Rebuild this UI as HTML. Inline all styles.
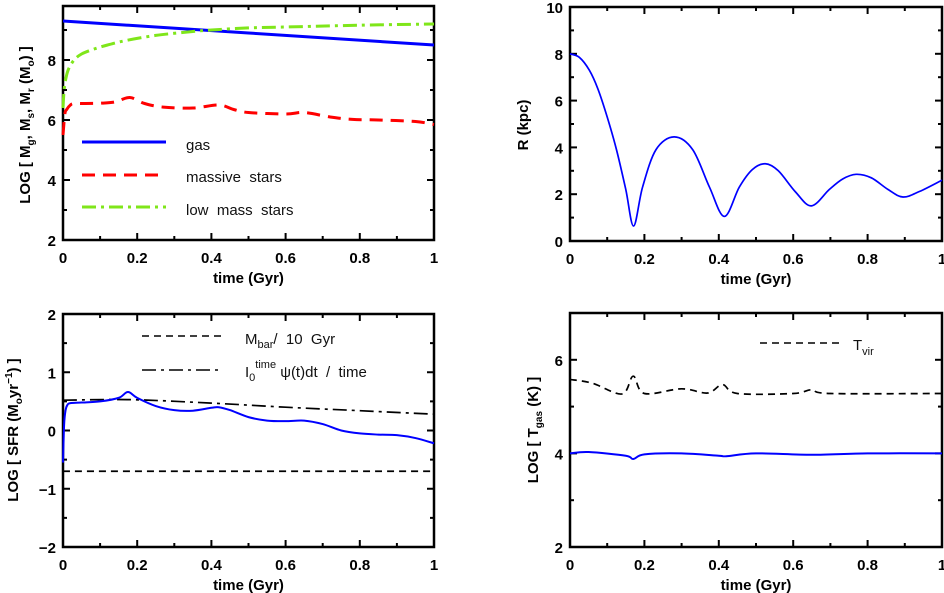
<!DOCTYPE html>
<html><head><meta charset="utf-8"><style>
html,body{margin:0;padding:0;background:#fff;width:944px;height:593px;overflow:hidden}
svg{display:block}
text{font-family:"Liberation Sans",sans-serif}
.tk{font-weight:bold;font-size:15px}
.lg{font-size:15px;fill:#111}
</style></head><body>
<svg id="c" width="944" height="593" xmlns="http://www.w3.org/2000/svg"></svg>
<script>
// ---- data ----
const tlGasT=[0,1];
const tlGasV=[9.3,8.5];
const tlLowT=[0,0.003,0.008,0.015,0.03,0.05,0.08,0.12,0.17,0.25,0.35,0.4,0.5,0.6,0.8,1];
const tlLowV=[6.4,7.0,7.4,7.7,8.0,8.2,8.35,8.5,8.65,8.82,8.95,9.0,9.07,9.1,9.16,9.2];
const tlMasT=[0,0.005,0.01,0.02,0.03,0.06,0.1,0.14,0.18,0.22,0.27,0.35,0.42,0.46,0.5,0.6,0.65,0.72,0.78,0.85,0.95,1];
const tlMasV=[5.5,6.2,6.35,6.5,6.55,6.55,6.56,6.6,6.75,6.55,6.43,6.4,6.5,6.35,6.25,6.2,6.25,6.1,6.02,6.0,5.95,5.85];
const trT=[0,0.025,0.052,0.075,0.1,0.125,0.15,0.171,0.195,0.231,0.28,0.33,0.375,0.415,0.455,0.49,0.525,0.56,0.606,0.649,0.697,0.733,0.769,0.81,0.855,0.895,0.94,1];
const trV=[8,7.85,7.3,6.5,5.3,3.9,2.2,0.64,2.3,3.9,4.45,3.9,2.3,1.05,2.3,3.05,3.3,3.0,2.1,1.5,2.2,2.65,2.85,2.7,2.2,1.88,2.12,2.6];
const blSfrT=[0,0.003,0.007,0.012,0.02,0.05,0.1,0.15,0.175,0.2,0.25,0.3,0.35,0.4,0.42,0.45,0.5,0.55,0.6,0.65,0.7,0.75,0.8,0.85,0.9,0.95,1];
const blSfrV=[-0.55,0.1,0.35,0.44,0.47,0.48,0.5,0.56,0.66,0.56,0.42,0.35,0.34,0.39,0.4,0.35,0.23,0.17,0.16,0.17,0.11,0.0,-0.05,-0.07,-0.08,-0.13,-0.22];
const blAvgT=[0,0.18,0.4,0.6,0.8,1];
const blAvgV=[0.52,0.53,0.47,0.4,0.34,0.28];
const blBarT=[0,1];
const blBarV=[-0.7,-0.7];
const brVirT=[0,0.06,0.14,0.17,0.2,0.3,0.37,0.41,0.45,0.6,0.65,0.7,1];
const brVirV=[5.58,5.5,5.27,5.65,5.28,5.38,5.29,5.47,5.28,5.28,5.36,5.28,5.28];
const brGasT=[0,0.05,0.15,0.17,0.2,0.3,0.4,0.42,0.5,0.65,0.8,1];
const brGasV=[4.0,4.03,3.95,3.88,3.98,4.0,3.95,3.94,4.0,3.97,4.0,4.0];
const xTickLabels=["0","0.2","0.4","0.6","0.8","1"];

const NS="http://www.w3.org/2000/svg";
const svg=document.getElementById('c');
function mk(tag,at,parent){const e=document.createElementNS(NS,tag);for(const k in at)e.setAttribute(k,at[k]);(parent||svg).appendChild(e);return e;}

function panel(name,L,R,T,B,ymin,ymax,major,minor,labels){
  const g=mk('g',{});
  
  
  const sx=v=>L+(R-L)*v, sy=v=>B-(B-T)*(v-ymin)/(ymax-ymin);
  mk('rect',{x:L,y:T,width:R-L,height:B-T,fill:'none',stroke:'#000','stroke-width':2.5},g);
  for(let i=0;i<=10;i++){const x=sx(i/10),len=i%2==0?7:4;
    mk('line',{x1:x,y1:B,x2:x,y2:B-len,stroke:'#000','stroke-width':2},g);
    mk('line',{x1:x,y1:T,x2:x,y2:T+len,stroke:'#000','stroke-width':2},g);}
  for(let i=0;i<xTickLabels.length;i++){
    const t=mk('text',{x:sx(i*0.2),y:B+23,'text-anchor':'middle',class:'tk'},g);
    t.textContent=xTickLabels[i];
    
    }
  for(let v=ymin;v<=ymax+1e-9;v+=minor){
    const isM=Math.abs(v/major-Math.round(v/major))<1e-6,len=isM?7:4,y=sy(v);
    if(y<T-0.5)continue;
    mk('line',{x1:L,y1:y,x2:L+len,y2:y,stroke:'#000','stroke-width':2},g);
    mk('line',{x1:R,y1:y,x2:R-len,y2:y,stroke:'#000','stroke-width':2},g);}
  for(const v of labels){
    const t=mk('text',{x:L-7,y:sy(v)+6,'text-anchor':'end',class:'tk'},g);
    t.textContent=(v<0?'\u2212'+(-v):''+v);
    
    }
  const xt=mk('text',{x:(L+R)/2,y:B+43,'text-anchor':'middle',class:'tk'},g);
  xt.textContent='time (Gyr)';
  
  
  return {g,sx,sy};
}
function smooth(p){
  let d='M'+p[0][0]+','+p[0][1];
  for(let i=0;i<p.length-1;i++){
    const p0=p[Math.max(0,i-1)],p1=p[i],p2=p[i+1],p3=p[Math.min(p.length-1,i+2)];
    const c1=[p1[0]+(p2[0]-p0[0])/6,p1[1]+(p2[1]-p0[1])/6],c2=[p2[0]-(p3[0]-p1[0])/6,p2[1]-(p3[1]-p1[1])/6];
    d+=' C'+c1+' '+c2+' '+p2;}
  return d;
}
function series(P,ts,vs,style,name){
  const pts=ts.map((t,i)=>[P.sx(t),P.sy(vs[i])]);
  const a=Object.assign({d:smooth(pts),fill:'none'},style);
  const e=mk('path',a,P.g);
  
  
}
function legLine(P,x1,x2,y,style,name){
  const e=mk('line',Object.assign({x1:x1,x2:x2,y1:y,y2:y},style),P.g);
  
  
}
function label(parent,x,y,txt,rot,name,cls){
  const t=mk('text',{x:x,y:y,'text-anchor':'middle',class:cls||'tk',transform:rot?`rotate(-90 ${x} ${y})`:''},parent);
  t.innerHTML=txt;
  
  
  return t;
}
// Top-left
const A=panel('masses-panel',63,434,6,240,2,9.8,2,1,[2,4,6,8]);
const blue={stroke:'#0000ff','stroke-width':3};
series(A,tlGasT,tlGasV,blue,'gas-line');
series(A,tlLowT,tlLowV,{stroke:'#7fe61a','stroke-width':3,'stroke-dasharray':'14,5,3,5'},'low-mass-stars-line');
series(A,tlMasT,tlMasV,{stroke:'#ff0000','stroke-width':3,'stroke-dasharray':'13,8'},'massive-stars-line');
legLine(A,82,166,142,blue,'legend-gas-line');
legLine(A,82,166,175,{stroke:'#ff0000','stroke-width':3,'stroke-dasharray':'13,8'},'legend-massive-line');
legLine(A,82,166,207,{stroke:'#7fe61a','stroke-width':3,'stroke-dasharray':'14,5,3,5'},'legend-low-mass-line');
label(A.g,186,150,'gas',false,'legend-gas','lg').setAttribute('text-anchor','start');
label(A.g,186,182,'massive&#160; stars',false,'legend-massive','lg').setAttribute('text-anchor','start');
label(A.g,186,215,'low&#160; mass&#160; stars',false,'legend-low-mass','lg').setAttribute('text-anchor','start');
label(A.g,30,125,'LOG [ M<tspan font-size="10" dy="4">g</tspan><tspan dy="-4">, M</tspan><tspan font-size="10" dy="4">s</tspan><tspan dy="-4">, M</tspan><tspan font-size="10" dy="4">r</tspan><tspan dy="-4"> (M</tspan><tspan font-size="10" dy="4">o</tspan><tspan dy="-4">) ]</tspan>',true,'y-axis-title');
// Top-right
const Bp=panel('radius-panel',570,942,7,241,0,10,2,1,[0,2,4,6,8,10]);
series(Bp,trT,trV,{stroke:'#0000ff','stroke-width':1.7},'radius-line');
label(Bp.g,528,125,'R (kpc)',true,'y-axis-title');
// Bottom-left
const C=panel('sfr-panel',63,434,314,547,-2,2,1,0.5,[-2,-1,0,1,2]);
series(C,blBarT,blBarV,{stroke:'#000','stroke-width':1.7,'stroke-dasharray':'7,5'},'mbar-line');
series(C,blAvgT,blAvgV,{stroke:'#000','stroke-width':1.7,'stroke-dasharray':'14,5,3,5'},'average-sfr-line');
series(C,blSfrT,blSfrV,{stroke:'#0000ff','stroke-width':2},'sfr-line');
legLine(C,142,225,336,{stroke:'#000','stroke-width':1.5,'stroke-dasharray':'7,5'},'legend-mbar-line');
legLine(C,142,222,370,{stroke:'#000','stroke-width':1.5,'stroke-dasharray':'14,5,3,5'},'legend-average-line');
label(C.g,245,344,'M<tspan font-size="11" dy="4">bar</tspan><tspan dy="-4">/&#160; 10&#160; Gyr</tspan>',false,'legend-mbar','lg').setAttribute('text-anchor','start');
label(C.g,245,377,'I<tspan font-size="11" dy="4">0</tspan><tspan font-size="11" dy="-13">time</tspan><tspan dy="9"> &#968;(t)dt&#160; /&#160; time</tspan>',false,'legend-average','lg').setAttribute('text-anchor','start');
label(C.g,18,430,'LOG [ SFR (M<tspan font-size="10" dy="4">o</tspan><tspan dy="-4">yr</tspan><tspan font-size="10" dy="-6">&#8722;1</tspan><tspan dy="6">) ]</tspan>',true,'y-axis-title');
// Bottom-right
const D=panel('temperature-panel',570,942,313,547,2,7,2,1,[2,4,6]);
series(D,brVirT,brVirV,{stroke:'#000','stroke-width':1.7,'stroke-dasharray':'7,5'},'tvir-line');
series(D,brGasT,brGasV,{stroke:'#0000ff','stroke-width':2},'tgas-line');
legLine(D,760,843,343,{stroke:'#000','stroke-width':1.5,'stroke-dasharray':'7,5'},'legend-tvir-line');
label(D.g,853,350,'T<tspan font-size="11" dy="5">vir</tspan>',false,'legend-tvir','lg').setAttribute('text-anchor','start');
label(D.g,538,430,'LOG [ T<tspan font-size="10" dy="4">gas</tspan><tspan dy="-4"> (K) ]</tspan>',true,'y-axis-title');
</script>
</body></html>
